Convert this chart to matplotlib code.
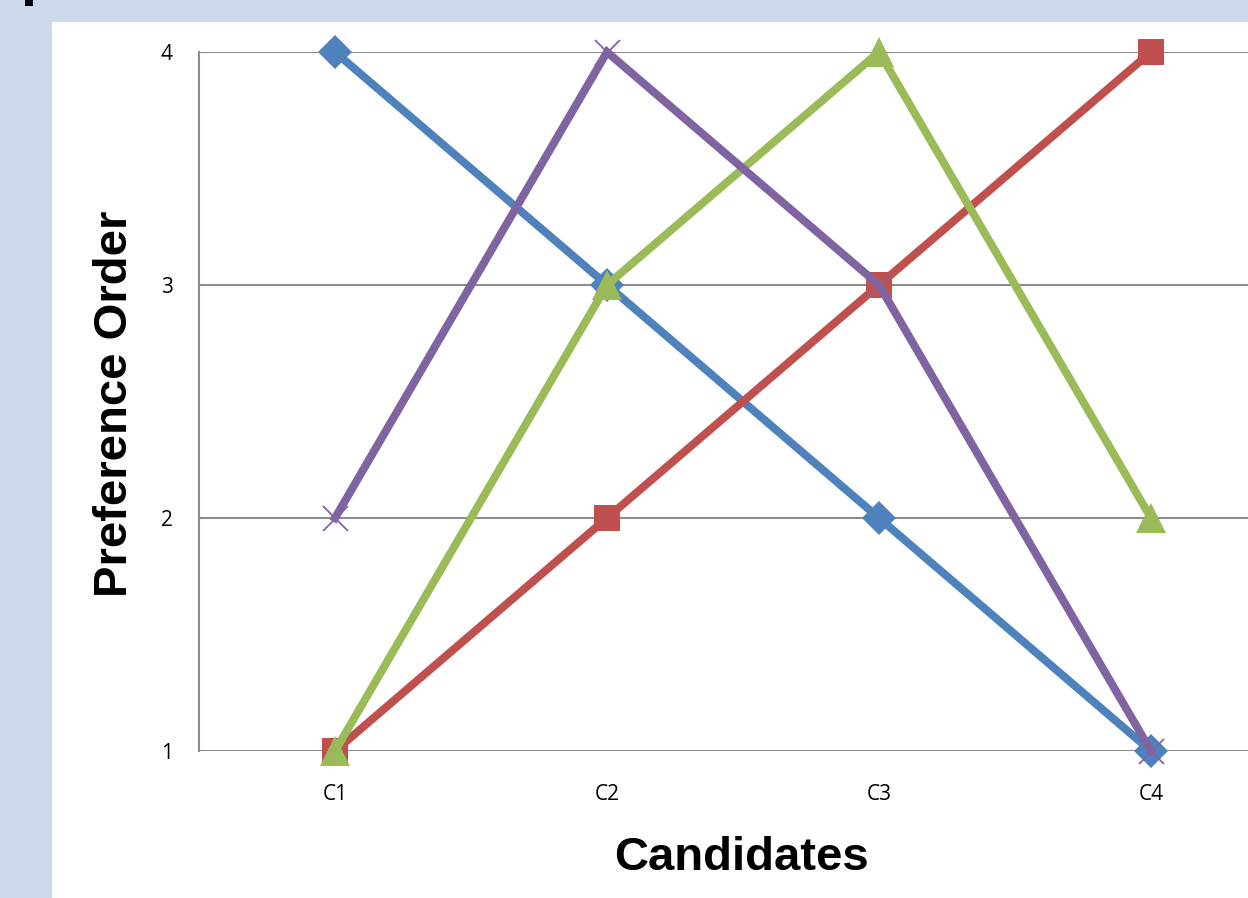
import matplotlib.pyplot as plt
from matplotlib.patches import Rectangle

# preference order of each voter over the four candidates
candidates = ["C1", "C2", "C3", "C4"]
voter_a = [4, 3, 2, 1]
voter_b = [1, 2, 3, 4]
voter_c = [1, 3, 4, 2]
voter_d = [2, 4, 3, 1]
y_ticks = [1, 2, 3, 4]

W, H = 1248, 898
fig = plt.figure(figsize=(W / 100, H / 100), dpi=100)
fig.patch.set_facecolor("#CBD9EB")

# white plot area panel and the small dark block in the corner
fig.patches.append(Rectangle((52 / W, 0), 1 - 52 / W, 1 - 22 / H,
                             transform=fig.transFigure, facecolor="white",
                             edgecolor="none", zorder=-5))
fig.patches.append(Rectangle((25 / W, 1 - 6 / H), 8 / W, 6 / H,
                             transform=fig.transFigure, facecolor="black",
                             edgecolor="none", zorder=-5))

left, right, top, bottom = 199, 1248, 52, 751
ax = fig.add_axes([left / W, 1 - bottom / H, (right - left) / W, (bottom - top) / H])
ax.set_facecolor("none")
ax.set_zorder(2)

x = list(range(len(candidates)))
series = [
    (voter_a, "#4F81BD", "D", 17, None),
    (voter_b, "#C0504D", "s", 19, None),
    (voter_c, "#9BBB59", "^", 21, None),
    (voter_d, "#8064A2", "x", 18, 1.3),
]
for vals, col, mk, ms, mew in series:
    ax.plot(x, vals, color=col, lw=5.8, marker=mk, markersize=ms,
            markeredgewidth=mew if mew else 0, markeredgecolor=col,
            markerfacecolor=col, clip_on=False, zorder=3,
            solid_joinstyle="miter")

ax.set_ylim(1, 4)
ax.set_xlim(-0.5, -0.5 + (right - left) / 272)
ax.set_yticks(y_ticks)
ax.set_xticks(x)
ax.set_xticklabels(candidates)

for yv in y_ticks:
    ax.axhline(yv, color="#8C8C8C", lw=1.5, zorder=1)
for s in ["top", "right", "bottom"]:
    ax.spines[s].set_visible(False)
ax.spines["left"].set_color("#8C8C8C")
ax.spines["left"].set_linewidth(1.5)

ax.tick_params(axis="y", length=0, pad=19, labelsize=15)
ax.tick_params(axis="x", length=0, pad=24, labelsize=15)
for lbl in ax.get_xticklabels() + ax.get_yticklabels():
    lbl.set_fontfamily("Open Sans")

fig.text(742 / W, 1 - 858 / H, "Candidates", ha="center", va="center",
         fontsize=34, fontweight="bold", family="Liberation Sans")
fig.text(115 / W, 1 - 404 / H, "Preference Order", ha="center", va="center",
         rotation=90, fontsize=34, fontweight="bold", family="Liberation Sans")

fig.savefig("out.png", dpi=100, facecolor=fig.get_facecolor())
